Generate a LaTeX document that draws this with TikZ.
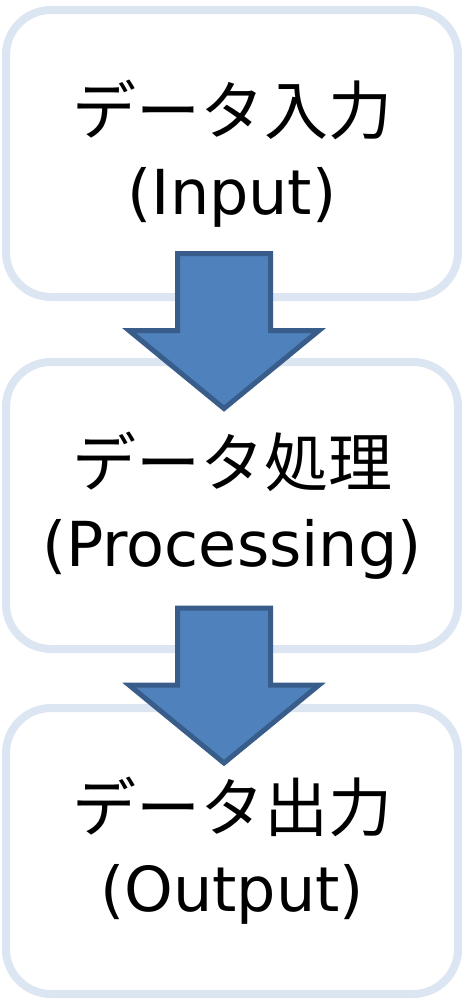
\documentclass[tikz,border=0pt]{standalone}
\usepackage{fontspec}
\usetikzlibrary{calc}
\setmainfont{DejaVu Sans}
\newfontfamily\jpfont{Noto Sans CJK JP}
\definecolor{boxline}{HTML}{DCE6F2}
\definecolor{arrowfill}{HTML}{4F81BD}
\definecolor{arrowline}{HTML}{385D8A}
\newcommand{\jptext}[1]{{\jpfont\fontsize{64}{80}\selectfont #1}}
\begin{document}
\begin{tikzpicture}[x=1pt,y=1pt,
  stagebox/.style={draw=boxline, line width=8pt, fill=white, rounded corners=45pt,
    minimum width=452pt, minimum height=287pt, inner sep=0pt, align=center,
    font=\fontsize{62}{80}\selectfont},
  blockarrow/.style={fill=arrowfill, draw=arrowline, line width=5pt, line join=miter}]
\useasboundingbox (0,0) rectangle (462,-1001);
\node[stagebox] (in) at (232,-153.5) {\jptext{データ入力}\\(Input)};
\node[stagebox] (proc) at (232,-505.5) {\jptext{データ処理}\\(Processing)};
\node[stagebox, minimum height=286pt] (out) at (232,-851) {\jptext{データ出力}\\(Output)};
\coordinate (a1) at (224,-253.5);
\coordinate (a2) at (224,-608);
\foreach \c in {a1,a2}{
  \draw[blockarrow] ($(\c)+(-46.5,0)$) -- ($(\c)+(46.5,0)$) -- ($(\c)+(46.5,-77)$)
    -- ($(\c)+(95,-77)$) -- ($(\c)+(0,-155)$) -- ($(\c)+(-95,-77)$)
    -- ($(\c)+(-46.5,-77)$) -- cycle;
}
\end{tikzpicture}
\end{document}
